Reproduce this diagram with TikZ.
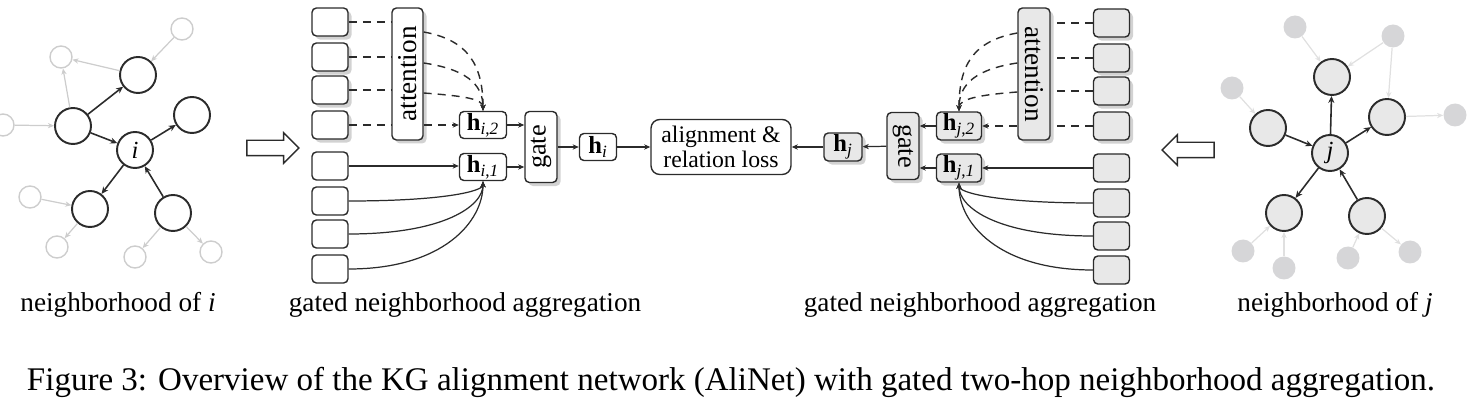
\documentclass[tikz,border=0pt]{standalone}
\usepackage{fontspec}
\setmainfont{Liberation Serif}
\usepackage{graphicx}
\usetikzlibrary{positioning, arrows.meta, calc, shadows, shapes.arrows}
\definecolor{ink}{HTML}{2B2B2B}
\definecolor{lgray}{HTML}{E8E8E8}
\definecolor{dgray}{HTML}{D6D6D8}
\definecolor{fgray}{HTML}{CDCDCD}
\definecolor{egray}{HTML}{E0E0E0}

\begin{document}
\begin{tikzpicture}[x=0.02cm, y=0.02cm,
    ent/.style={circle, draw=ink, line width=1.1pt, minimum size=0.72cm, inner sep=0pt, font=\fontsize{14}{14}\selectfont\itshape},
    faro/.style={circle, draw=fgray, line width=0.8pt, minimum size=0.44cm, inner sep=0pt},
    farj/.style={circle, fill=dgray, minimum size=0.46cm, inner sep=0pt},
    arr/.style={-{Stealth[length=4pt, width=3.5pt]}, line width=0.9pt, draw=ink},
    farr/.style={-{Stealth[length=3.5pt, width=3pt]}, line width=0.7pt},
    cell/.style={rectangle, draw=ink, fill=white, rounded corners=2.5pt, line width=0.8pt, minimum width=0.72cm, minimum height=0.56cm, inner sep=0pt},
    shd/.style={drop shadow={shadow xshift=2pt, shadow yshift=-2pt, fill=gray!35, opacity=1}},
    hvec/.style={cell, minimum height=0.54cm, inner sep=1pt, font=\fontsize{14}{14}\selectfont},
    conn/.style={-{Stealth[length=3.5pt, width=3pt]}, line width=0.7pt, draw=ink},
    dline/.style={line width=0.8pt, draw=ink, dash pattern=on 4.5pt off 3.5pt},
    dconn/.style={dline, -{Stealth[length=3.5pt, width=3pt]}},
    hollow/.style={single arrow, draw=ink, line width=0.8pt, minimum height=1.04cm, inner xsep=0pt, inner ysep=0.14cm, single arrow head extend=0.15cm},
    lbl/.style={font=\fontsize{15.5}{16}\selectfont},
  ]
    \useasboundingbox (0,0) rectangle (1475,-408);

    % neighborhood of i
    \node[ent] (i) at (135,-150) {i};
    \node[ent] (iT) at (138,-75) {};
    \node[ent] (iL) at (73,-126) {};
    \node[ent] (iR) at (192,-115) {};
    \node[ent] (iBL) at (90,-209) {};
    \node[ent] (iBR) at (173,-213) {};
    \node[faro] (iF1) at (182,-29) {};
    \node[faro] (iF2) at (61,-57) {};
    \node[faro] (iF3) at (3,-125) {};
    \node[faro] (iF4) at (30,-197) {};
    \node[faro] (iF5) at (57,-247) {};
    \node[faro] (iF6) at (135,-257) {};
    \node[faro] (iF7) at (211,-252) {};

    \draw[arr] (iL) -- (iT);
    \draw[arr] (iL) -- (i);
    \draw[arr] (i) -- (iR);
    \draw[arr] (i) -- (iBL);
    \draw[arr] (iBR) -- (i);
    \draw[farr, draw=fgray] (iF1) -- (iT);
    \draw[farr, draw=fgray] (iT) -- (iF2);
    \draw[farr, draw=fgray] (iL) -- (iF2);
    \draw[farr, draw=fgray] (iF3) -- (iL);
    \draw[farr, draw=fgray] (iF4) -- (iBL);
    \draw[farr, draw=fgray] (iBL) -- (iF5);
    \draw[farr, draw=fgray] (iBR) -- (iF6);
    \draw[farr, draw=fgray] (iBR) -- (iF7);

    \node[hollow] (fwdL) at (269,-148) {};

    % gated aggregation for i
    \node[cell, shd] (nL1) at (330,-22) {};
    \node[cell, shd] (nL2) at (330,-57) {};
    \node[cell, shd] (nL3) at (330,-90) {};
    \node[cell, shd] (nL4) at (330,-125) {};
    \node[cell] (nL5) at (330,-166) {};
    \node[cell] (nL6) at (330,-201) {};
    \node[cell] (nL7) at (330,-234) {};
    \node[cell] (nL8) at (330,-269) {};
    \node[cell, shd, minimum width=0.62cm, minimum height=2.64cm, font=\fontsize{15.5}{15.5}\selectfont] (attL) at (407.5,-74) {\rotatebox{90}{attention}};
    \node[hvec, minimum width=0.94cm] (hi2) at (483,-125) {\textbf{h}\textsubscript{\textit{i},\textit{2}}};
    \node[hvec, minimum width=0.94cm] (hi1) at (483,-167) {\textbf{h}\textsubscript{\textit{i},\textit{1}}};
    \node[cell, shd, minimum width=0.64cm, minimum height=1.42cm, font=\fontsize{15}{15}\selectfont] (gateL) at (541,-147) {\rotatebox{90}{gate}};
    \node[hvec, minimum width=0.74cm] (hi) at (598,-147) {\textbf{h}\textsubscript{\textit{i}}};

    \draw[dline] (nL1.east) -- (nL1.east -| attL.west);
    \draw[dline] (nL2.east) -- (nL2.east -| attL.west);
    \draw[dline] (nL3.east) -- (nL3.east -| attL.west);
    \draw[dline] (nL4.east) -- (nL4.east -| attL.west);
    \draw[dconn] ($(attL.east |- nL1)+(0,-10)$) .. controls +(45,-8) and +(0,45) .. (hi2.north);
    \draw[dconn] ($(attL.east |- nL2)+(0,-6)$) .. controls +(40,-6) and +(0,28) .. (hi2.north);
    \draw[dconn] ($(attL.east |- nL3)+(0,-3)$) .. controls +(40,-3) and +(0,12) .. (hi2.north);
    \draw[dconn] (attL.east |- nL4) -- (hi2.west);
    \draw[conn] (nL5.east) -- (nL5.east -| hi1.west);
    \draw[conn] (nL6.east) .. controls +(95,0) and +(0,-10) .. (hi1.south);
    \draw[conn] (nL7.east) .. controls +(95,0) and +(0,-25) .. (hi1.south);
    \draw[conn] (nL8.east) .. controls +(95,0) and +(0,-40) .. (hi1.south);
    \draw[conn] (hi2.east) -- (hi2.east -| gateL.west);
    \draw[conn] (hi1.east) -- (hi1.east -| gateL.west);
    \draw[conn] (gateL) -- (hi);

    % loss
    \node[cell, rounded corners=5pt, minimum width=2.8cm, minimum height=1.1cm, align=center, font=\fontsize{13.5}{14}\selectfont] (loss) at (721,-147) {alignment \&\\relation loss};
    \draw[conn] (hi) -- (loss);

    % gated aggregation for j
    \node[hvec, shd, fill=lgray, minimum width=0.76cm] (hj) at (843,-147) {\textbf{h}\textsubscript{\textit{j}}};
    \node[cell, shd, fill=lgray, minimum width=0.64cm, minimum height=1.34cm, font=\fontsize{15}{15}\selectfont] (gateR) at (903,-146) {\rotatebox{-90}{gate}};
    \node[hvec, shd, fill=lgray, minimum width=0.9cm] (hj2) at (959,-126) {\textbf{h}\textsubscript{\textit{j},\textit{2}}};
    \node[hvec, shd, fill=lgray, minimum width=0.9cm] (hj1) at (959,-168) {\textbf{h}\textsubscript{\textit{j},\textit{1}}};
    \node[cell, shd, fill=lgray, minimum width=0.64cm, minimum height=2.64cm, font=\fontsize{15.5}{15.5}\selectfont] (attR) at (1034,-74) {\rotatebox{-90}{attention}};
    \node[cell, shd, fill=lgray] (nR1) at (1111.5,-23) {};
    \node[cell, shd, fill=lgray] (nR2) at (1111.5,-58) {};
    \node[cell, shd, fill=lgray] (nR3) at (1111.5,-91) {};
    \node[cell, shd, fill=lgray] (nR4) at (1111.5,-126) {};
    \node[cell, fill=lgray] (nR5) at (1111.5,-168) {};
    \node[cell, fill=lgray] (nR6) at (1111.5,-203) {};
    \node[cell, fill=lgray] (nR7) at (1111.5,-236) {};
    \node[cell, fill=lgray] (nR8) at (1111.5,-270) {};

    \draw[dline] (nR1.west) -- (nR1.west -| attR.east);
    \draw[dline] (nR2.west) -- (nR2.west -| attR.east);
    \draw[dline] (nR3.west) -- (nR3.west -| attR.east);
    \draw[dline] (nR4.west) -- (nR4.west -| attR.east);
    \draw[dconn] ($(attR.west |- nR1)+(0,-10)$) .. controls +(-45,-8) and +(0,45) .. (hj2.north);
    \draw[dconn] ($(attR.west |- nR2)+(0,-5)$) .. controls +(-40,-6) and +(0,28) .. (hj2.north);
    \draw[dconn] ($(attR.west |- nR3)+(0,-1)$) .. controls +(-40,-3) and +(0,12) .. (hj2.north);
    \draw[dconn] (attR.west |- nR4) -- (hj2.east);
    \draw[conn] (nR5.west) -- (nR5.west -| hj1.east);
    \draw[conn] (nR6.west) .. controls +(-95,0) and +(0,-10) .. (hj1.south);
    \draw[conn] (nR7.west) .. controls +(-95,0) and +(0,-25) .. (hj1.south);
    \draw[conn] (nR8.west) .. controls +(-95,0) and +(0,-40) .. (hj1.south);
    \draw[conn] (hj2.west) -- (hj2.west -| gateR.east);
    \draw[conn] (hj1.west) -- (hj1.west -| gateR.east);
    \draw[conn] (gateR) -- (hj);
    \draw[conn] (hj) -- (loss);

    \node[hollow, shape border rotate=180] (fwdR) at (1192,-150) {};

    % neighborhood of j
    \node[ent, fill=lgray] (j) at (1330,-153) {j};
    \node[ent, fill=lgray] (jT) at (1332,-77) {};
    \node[ent, fill=lgray] (jL) at (1268,-128) {};
    \node[ent, fill=lgray] (jR) at (1387,-117) {};
    \node[ent, fill=lgray] (jBL) at (1284,-213) {};
    \node[ent, fill=lgray] (jBR) at (1367,-216) {};
    \node[farj] (jF1) at (1295,-27) {};
    \node[farj] (jF2) at (1393,-36) {};
    \node[farj] (jF3) at (1232,-88) {};
    \node[farj] (jF4) at (1455,-115) {};
    \node[farj] (jF5) at (1243,-251) {};
    \node[farj] (jF6) at (1284,-268) {};
    \node[farj] (jF7) at (1348,-258) {};
    \node[farj] (jF8) at (1410,-252) {};

    \draw[arr] (jL) -- (j);
    \draw[arr] (j) -- (jT);
    \draw[arr] (j) -- (jR);
    \draw[arr] (j) -- (jBL);
    \draw[arr] (jBR) -- (j);
    \draw[farr, draw=egray] (jF1) -- (jT);
    \draw[farr, draw=egray] (jF2) -- (jT);
    \draw[farr, draw=egray] (jF2) -- (jR);
    \draw[farr, draw=egray] (jR) -- (jF4);
    \draw[farr, draw=egray] (jF3) -- (jL);
    \draw[farr, draw=egray] (jF5) -- (jBL);
    \draw[farr, draw=egray] (jF6) -- (jBL);
    \draw[farr, draw=egray] (jF7) -- (jBR);
    \draw[farr, draw=egray] (jBR) -- (jF8);

    % labels and caption
    \node[lbl] (capI) at (118,-305) {neighborhood of \textit{i}};
    \node[lbl] (capAggI) at (465,-305) {gated neighborhood aggregation};
    \node[lbl] (capAggJ) at (980,-305) {gated neighborhood aggregation};
    \node[lbl] (capJ) at (1335,-305) {neighborhood of \textit{j}};
    \node[font=\fontsize{18.8}{20}\selectfont] (caption) at (731,-382) {Figure 3: Overview of the KG alignment network (AliNet) with gated two-hop neighborhood aggregation.};
  \end{tikzpicture}
\end{document}
